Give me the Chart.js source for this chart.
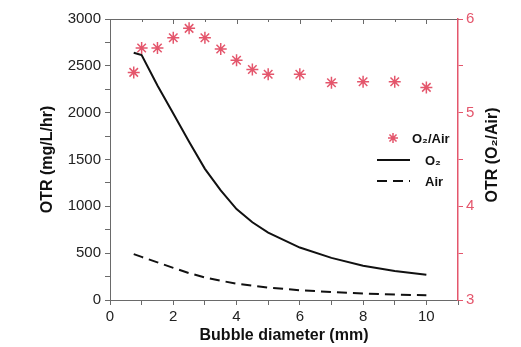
<!DOCTYPE html>
<html>
<head>
<meta charset="utf-8">
<script src="https://cdn.jsdelivr.net/npm/chart.js@4"></script>
<style>
  html, body { margin: 0; padding: 0; background: #fff; }
  #wrap { width: 521px; height: 347px; }
</style>
</head>
<body>
<div id="wrap"><canvas id="otrChart"></canvas></div>
<script>
// values
const diameters = [0.75, 1, 1.5, 2, 2.5, 3, 3.5, 4, 4.5, 5, 6, 7, 8, 9, 10];
const otrO2 = [2640, 2615, 2290, 1990, 1690, 1400, 1170, 970, 830, 720, 560, 450, 365, 310, 270];
const otrAir = [490, 460, 402, 343, 287, 241, 206, 174, 152, 133, 104, 85, 69, 58, 50];
const ratioO2Air = [5.43, 5.69, 5.69, 5.80, 5.90, 5.80, 5.68, 5.56, 5.46, 5.41, 5.41, 5.32, 5.33, 5.33, 5.27];

// tick labels
const xTickLabels = [0, 2, 4, 6, 8, 10];
const leftTickLabels = [0, 500, 1000, 1500, 2000, 2500, 3000];
const rightTickLabels = [3, 4, 5, 6];

const RED = '#e4566c';
const AXIS = '#6a6a6a';
const FONT = "'Liberation Sans', Arial, sans-serif";

const toPoints = ys => diameters.map((d, i) => ({ x: d, y: ys[i] }));

// major ticks plus one minor tick between each pair
function withMinor(vals, extra) {
    const out = [];
    vals.forEach((v, i) => {
        out.push(v);
        if (i < vals.length - 1) out.push((v + vals[i + 1]) / 2);
    });
    if (extra !== undefined) out.push(extra);
    return out;
}

// right title, inward top ticks and the in-plot legend
const extrasPlugin = {
    id: 'extras',
    afterDraw(chart) {
        const ctx = chart.ctx;
        const top = chart.scales.xTop;
        ctx.save();

        // inward ticks on the top frame
        ctx.strokeStyle = AXIS;
        ctx.lineWidth = 1;
        withMinor(xTickLabels, 11).forEach(v => {
            if (v <= 0 || v >= 11) return;
            const px = Math.round(top.getPixelForValue(v)) + 0.5;
            const len = xTickLabels.includes(v) ? 5 : 3;
            ctx.beginPath();
            ctx.moveTo(px, top.bottom);
            ctx.lineTo(px, top.bottom + len);
            ctx.stroke();
        });

        // right axis title, reading bottom to top
        ctx.fillStyle = '#111';
        ctx.font = 'bold 16px ' + FONT;
        ctx.textAlign = 'center';
        ctx.textBaseline = 'middle';
        ctx.translate(493, 155);
        ctx.rotate(-Math.PI / 2);
        ctx.fillText('OTR (O₂/Air)', 0, 0);
        ctx.setTransform(1, 0, 0, 1, 0, 0);

        // legend
        const ds = chart.data.datasets;
        ctx.font = 'bold 13px ' + FONT;
        ctx.textAlign = 'left';
        ctx.fillStyle = '#111';

        ctx.strokeStyle = ds[2].borderColor;
        ctx.lineWidth = 1.5;
        Chart.helpers.drawPoint(ctx, { pointStyle: 'star', radius: 5, rotation: 0, borderWidth: 1.5 }, 393, 138);
        ctx.fillText(ds[2].label, 412, 139);

        ctx.strokeStyle = ds[0].borderColor;
        ctx.lineWidth = 2;
        ctx.beginPath();
        ctx.moveTo(377, 160);
        ctx.lineTo(410, 160);
        ctx.stroke();
        ctx.fillText(ds[0].label, 425, 161);

        ctx.setLineDash(ds[1].borderDash);
        ctx.beginPath();
        ctx.moveTo(377, 181);
        ctx.lineTo(410, 181);
        ctx.stroke();
        ctx.setLineDash([]);
        ctx.fillText(ds[1].label, 425, 182);

        ctx.restore();
    }
};

new Chart(document.getElementById('otrChart'), {
    type: 'scatter',
    data: {
        datasets: [
            {
                label: 'O₂',
                data: toPoints(otrO2),
                yAxisID: 'y',
                showLine: true,
                borderColor: '#111',
                borderWidth: 2,
                pointRadius: 0,
                tension: 0
            },
            {
                label: 'Air',
                data: toPoints(otrAir),
                yAxisID: 'y',
                showLine: true,
                borderColor: '#111',
                borderWidth: 2,
                borderDash: [10, 6],
                pointRadius: 0,
                tension: 0
            },
            {
                label: 'O₂/Air',
                data: toPoints(ratioO2Air),
                yAxisID: 'y2',
                showLine: false,
                pointStyle: 'star',
                pointRadius: 6,
                borderColor: RED,
                backgroundColor: RED,
                pointBorderWidth: 1.5
            }
        ]
    },
    options: {
        responsive: true,
        maintainAspectRatio: false,
        animation: false,
        layout: { padding: 0 },
        plugins: {
            legend: { display: false },
            tooltip: { enabled: false }
        },
        scales: {
            x: {
                type: 'linear',
                position: 'bottom',
                min: 0,
                max: 11,
                afterBuildTicks: s => { s.ticks = withMinor(xTickLabels, 11).map(v => ({ value: v })); },
                afterFit: s => { s.height = 47; },
                grid: { drawOnChartArea: false, tickLength: 5, color: AXIS },
                border: { color: AXIS, width: 1 },
                ticks: {
                    color: '#222',
                    font: { family: FONT, size: 15 },
                    padding: 3,
                    maxRotation: 0,
                    autoSkip: false,
                    callback: v => xTickLabels.includes(v) ? String(v) : ''
                },
                title: {
                    display: true,
                    text: 'Bubble diameter (mm)',
                    color: '#111',
                    font: { family: FONT, size: 16, weight: 'bold' },
                    padding: { top: 0, bottom: 2 }
                }
            },
            xTop: {
                type: 'linear',
                position: 'top',
                min: 0,
                max: 11,
                afterFit: s => { s.height = 19; },
                grid: { display: false },
                border: { color: AXIS, width: 1 },
                ticks: { display: false }
            },
            y: {
                type: 'linear',
                position: 'left',
                min: 0,
                max: 3000,
                afterBuildTicks: s => { s.ticks = withMinor(leftTickLabels).map(v => ({ value: v })); },
                afterFit: s => { s.width = 110; },
                grid: { drawOnChartArea: false, tickLength: 5, color: AXIS },
                border: { color: AXIS, width: 1 },
                ticks: {
                    color: '#222',
                    font: { family: FONT, size: 15 },
                    padding: 4,
                    autoSkip: false,
                    callback: v => leftTickLabels.includes(v) ? String(v) : ''
                },
                title: {
                    display: true,
                    text: 'OTR (mg/L/hr)',
                    color: '#111',
                    font: { family: FONT, size: 16, weight: 'bold' },
                    padding: { top: 38, bottom: 0 }
                }
            },
            y2: {
                type: 'linear',
                position: 'right',
                min: 3,
                max: 6,
                afterBuildTicks: s => { s.ticks = withMinor(rightTickLabels).map(v => ({ value: v })); },
                afterFit: s => { s.width = 63; },
                grid: { drawOnChartArea: false, tickLength: 5, color: RED },
                border: { color: RED, width: 1.5 },
                ticks: {
                    color: RED,
                    font: { family: FONT, size: 15 },
                    padding: 3,
                    autoSkip: false,
                    callback: v => rightTickLabels.includes(v) ? String(v) : ''
                }
            }
        }
    },
    plugins: [extrasPlugin]
});
</script>
</body>
</html>
